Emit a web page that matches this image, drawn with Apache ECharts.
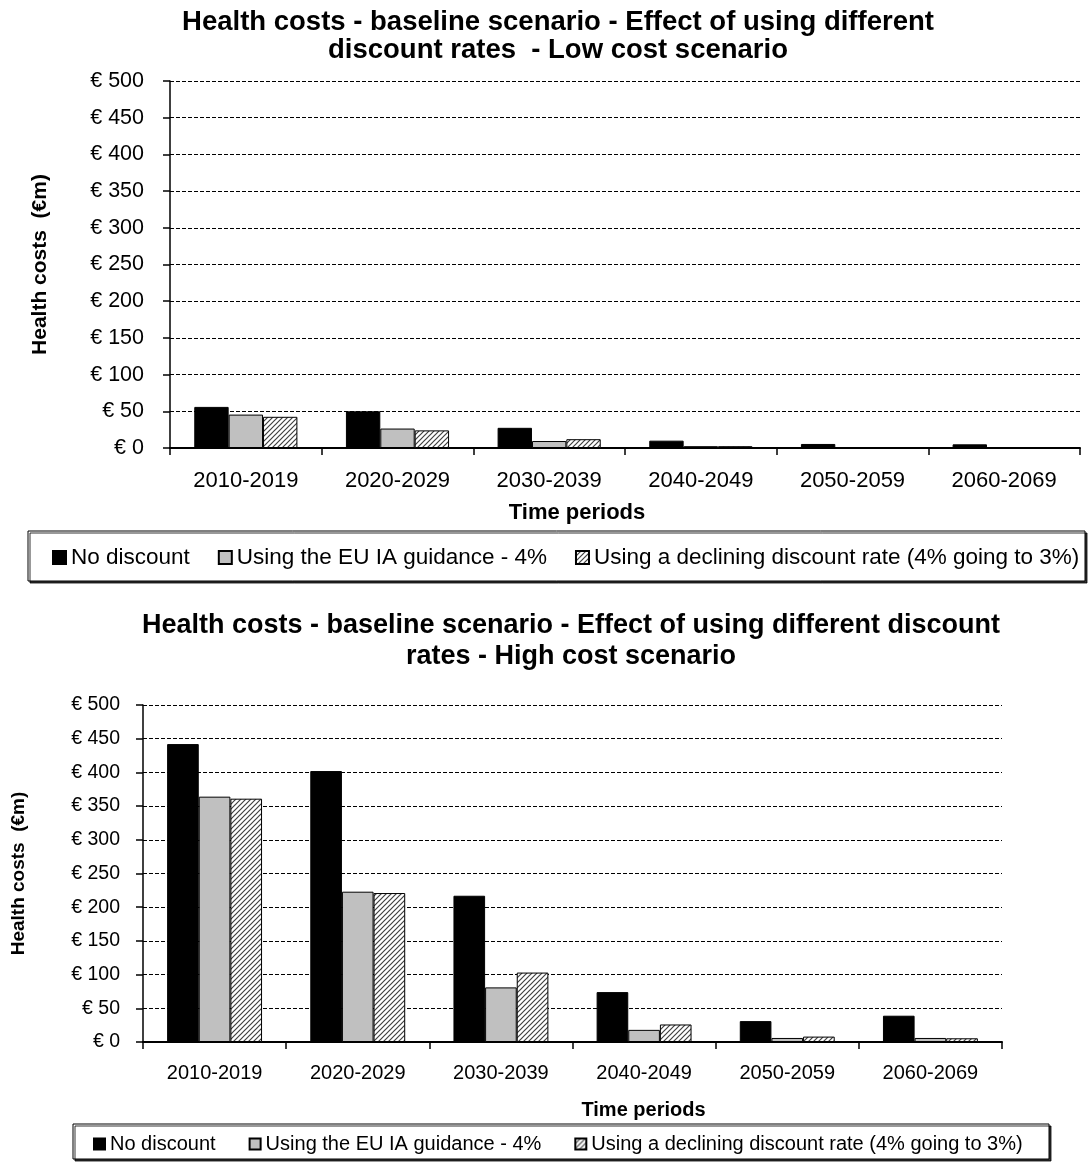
<!DOCTYPE html>
<html><head><meta charset="utf-8">
<script src="https://cdn.jsdelivr.net/npm/echarts@6/dist/echarts.min.js"></script>
<style>html,body{margin:0;padding:0;background:#fff}#c{width:1089px;height:1162px}</style>
</head><body><div id="c"></div>
<script>
// ---- data ----
const categories = ['2010-2019','2020-2029','2030-2039','2040-2049','2050-2059','2060-2069'];
const seriesNames = ['No discount','Using the EU IA guidance - 4%','Using a declining discount rate (4% going to 3%)'];
const lowNoDiscount = [56, 50, 27.5, 10, 5.5, 5];
const lowEU = [45.5, 26.5, 9.5, 2.5, 0.5, 0.5];
const lowDeclining = [42.5, 24, 12, 2.5, 0.5, 0.5];
const highNoDiscount = [442, 402, 217, 74, 31, 39];
const highEU = [364, 223, 81, 18, 6, 6];
const highDeclining = [361, 221, 103, 26, 8, 5.5];
const titleLow = 'Health costs - baseline scenario - Effect of using different\ndiscount rates  - Low cost scenario';
const titleHigh = 'Health costs - baseline scenario - Effect of using different discount\nrates - High cost scenario';
const yName = 'Health costs  (€m)';
const xName = 'Time periods';

const FONT = '"Liberation Sans", Arial, sans-serif';
function hatch(){
  const c=document.createElement('canvas'); c.width=c.height=5;
  const g=c.getContext('2d'); g.fillStyle='#fff'; g.fillRect(0,0,5,5);
  g.strokeStyle='#404040'; g.lineWidth=1.2; g.beginPath();
  g.moveTo(-1,6); g.lineTo(6,-1);
  g.moveTo(-1,1); g.lineTo(1,-1);
  g.moveTo(4,6); g.lineTo(6,4);
  g.stroke(); return c;
}
const styles = [
  {color:'#000', borderColor:'#000', borderWidth:1},
  {color:'#c0c0c0', borderColor:'#000', borderWidth:1},
  {color:{image:hatch(), repeat:'repeat'}, borderColor:'#000', borderWidth:1}
];
const chart = echarts.init(document.getElementById('c'), null, {renderer:'canvas'});

function yAxis(gi, fs, nameFs, nameGap, margin){
  return {gridIndex:gi, type:'value', min:0, max:500, interval:50,
    name:yName, nameLocation:'middle', nameGap:nameGap, nameRotate:90,
    nameTextStyle:{fontFamily:FONT, fontWeight:'bold', fontSize:nameFs, color:'#000'},
    axisLine:{show:true, lineStyle:{color:'#000', width:1.5}},
    axisTick:{show:true, length:7, lineStyle:{color:'#000', width:1.5}},
    axisLabel:{fontFamily:FONT, fontSize:fs, color:'#000', margin:margin, formatter:v=>'€ '+v},
    splitLine:{show:true, lineStyle:{color:'#000', width:1, type:[4,2]}}
  };
}
function xAxis(gi, fs, margin, nameGap, pad){
  return {gridIndex:gi, type:'category', data:categories,
    name:xName, nameLocation:'middle', nameGap:nameGap,
    nameTextStyle:{fontFamily:FONT, fontWeight:'bold', fontSize:fs, color:'#000', padding:pad},
    axisLine:{show:true, lineStyle:{color:'#000', width:2}},
    axisTick:{show:true, length:7, lineStyle:{color:'#000', width:1.5}},
    axisLabel:{fontFamily:FONT, fontSize:fs, color:'#000', margin:margin}
  };
}
const lowData=[lowNoDiscount,lowEU,lowDeclining];
const highData=[highNoDiscount,highEU,highDeclining];
const series=[];
lowData.forEach((d,i)=>series.push({type:'bar', name:seriesNames[i], xAxisIndex:0, yAxisIndex:0, data:d,
  itemStyle:styles[i], barGap:'0%', barCategoryGap:'32%'}));
highData.forEach((d,i)=>series.push({type:'bar', name:seriesNames[i], xAxisIndex:1, yAxisIndex:1, data:d,
  itemStyle:styles[i], barGap:'0%', barCategoryGap:'33.7%'}));

chart.setOption({
  animation:false,
  backgroundColor:'#fff',
  title:[
    {text:titleLow, left:558, top:8, textAlign:'center', padding:0,
     textStyle:{fontFamily:FONT, fontWeight:'bold', fontSize:27.5, lineHeight:28, color:'#000'}},
    {text:titleHigh, left:571, top:610, textAlign:'center', padding:0,
     textStyle:{fontFamily:FONT, fontWeight:'bold', fontSize:27, lineHeight:31, color:'#000'}}
  ],
  grid:[
    {left:170, right:9, top:81, bottom:1162-448, containLabel:false},
    {left:143, right:87, top:705, bottom:1162-1042, containLabel:false}
  ],
  xAxis:[xAxis(0,22,22,54,[0,96,0,0]), xAxis(1,20,21,58,[0,0,0,142])],
  yAxis:[yAxis(0,21.5,21,119,26), yAxis(1,19.5,19,115,23)],
  legend:[
    {left:52, top:546, padding:0, itemWidth:13, itemHeight:13, itemGap:28, icon:'rect',
     data:seriesNames, selectedMode:false, textStyle:{fontFamily:FONT, fontSize:22.5, color:'#000'}},
    {left:93, top:1134, padding:0, itemWidth:11, itemHeight:11, itemGap:33, icon:'rect',
     data:seriesNames, selectedMode:false, textStyle:{fontFamily:FONT, fontSize:20, color:'#000'}}
  ],
  graphic:[
    {type:'rect', z:-1, shape:{x:28, y:531, width:1057, height:50},
     style:{fill:'#fff', stroke:'#000', lineWidth:1, shadowColor:'rgba(0,0,0,0.8)', shadowOffsetX:2, shadowOffsetY:2, shadowBlur:0}},
    {type:'rect', z:-1, shape:{x:73, y:1124, width:976, height:35},
     style:{fill:'#fff', stroke:'#000', lineWidth:1, shadowColor:'rgba(0,0,0,0.8)', shadowOffsetX:2, shadowOffsetY:2, shadowBlur:0}}
  ],
  series:series
});
</script></body></html>
